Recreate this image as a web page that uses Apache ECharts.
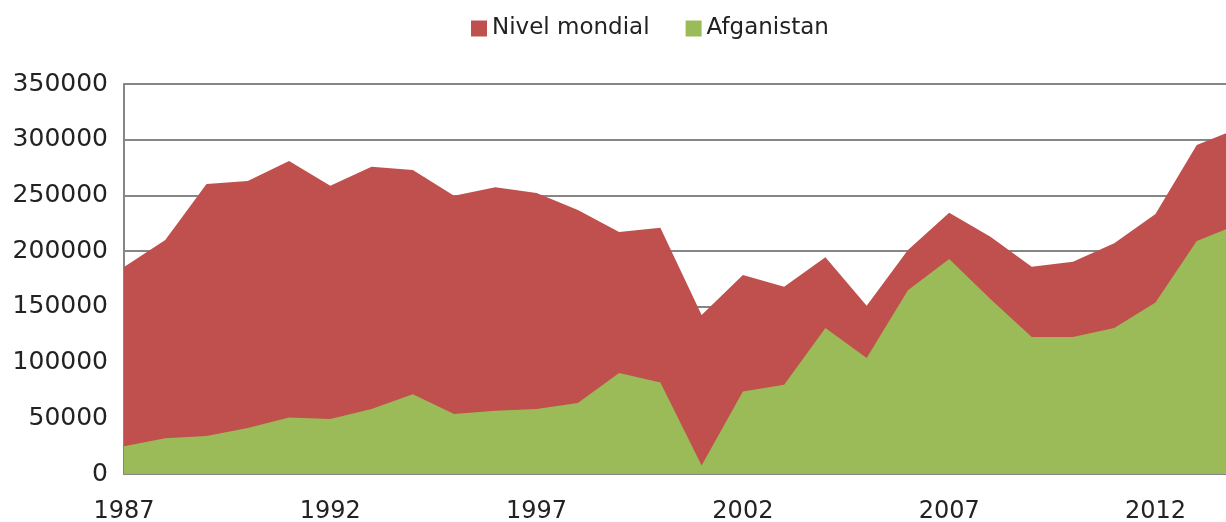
<!DOCTYPE html>
<html>
<head>
<meta charset="utf-8">
<script src="https://cdn.jsdelivr.net/npm/echarts@6/dist/echarts.min.js"></script>
<style>html,body{margin:0;padding:0;background:#fff;}#c{width:1226px;height:522px;}</style>
</head>
<body>
<div id="c"></div>
<script>
const years = ['1987','1988','1989','1990','1991','1992','1993','1994','1995','1996','1997','1998','1999','2000','2001','2002','2003','2004','2005','2006','2007','2008','2009','2010','2011','2012','2013','2014'];
const world = [185800,210000,260200,263000,280900,258700,275800,272800,249700,257300,252200,236900,217200,221000,142700,178600,168100,194500,151000,201000,234500,213000,186000,190500,207000,233300,295200,310000];
const afghanistan = [25000,32000,34000,41300,50800,49300,58300,71470,53759,56824,58416,63674,90583,82171,7606,74100,80000,131000,104000,165000,193000,157000,123000,123000,131000,154000,209000,224000];
const yTicks = [0,50000,100000,150000,200000,250000,300000,350000];

const chart = echarts.init(document.getElementById('c'));
const font = 'DejaVu Sans';
chart.setOption({
  animation: false,
  color: ['#C0504D','#9BBB59'],
  legend: {
    top: 12, left: 466, icon: 'rect', itemWidth: 16, itemHeight: 16, itemGap: 36,
    textStyle: {fontFamily: font, fontSize: 23, color: '#222'},
    data: ['Nivel mondial','Afganistan']
  },
  grid: {left: 124, top: 84, height: 390, width: 1114, containLabel: false, outerBoundsMode: 'none'},
  xAxis: {
    type: 'category', data: years, boundaryGap: false,
    axisLine: {show: true, lineStyle: {color: '#868686', width: 2}},
    axisTick: {show: false},
    axisLabel: {interval: 4, margin: 26, fontFamily: font, fontSize: 24, color: '#222'},
    splitLine: {show: false}
  },
  yAxis: {
    type: 'value', min: yTicks[0], max: yTicks[yTicks.length-1], interval: 50000,
    axisLine: {show: true, lineStyle: {color: '#868686', width: 2}},
    axisTick: {show: false},
    axisLabel: {margin: 16, fontFamily: font, fontSize: 25, color: '#222', formatter: v => String(v)},
    splitLine: {show: true, lineStyle: {color: '#868686', width: 2}}
  },
  series: [
    {name: 'Nivel mondial', type: 'line', data: world, symbol: 'none', lineStyle: {width: 0}, areaStyle: {opacity: 1, color: '#C0504D'}, z: 2},
    {name: 'Afganistan', type: 'line', data: afghanistan, symbol: 'none', lineStyle: {width: 0}, areaStyle: {opacity: 1, color: '#9BBB59'}, z: 3}
  ]
});
</script>
</body>
</html>
